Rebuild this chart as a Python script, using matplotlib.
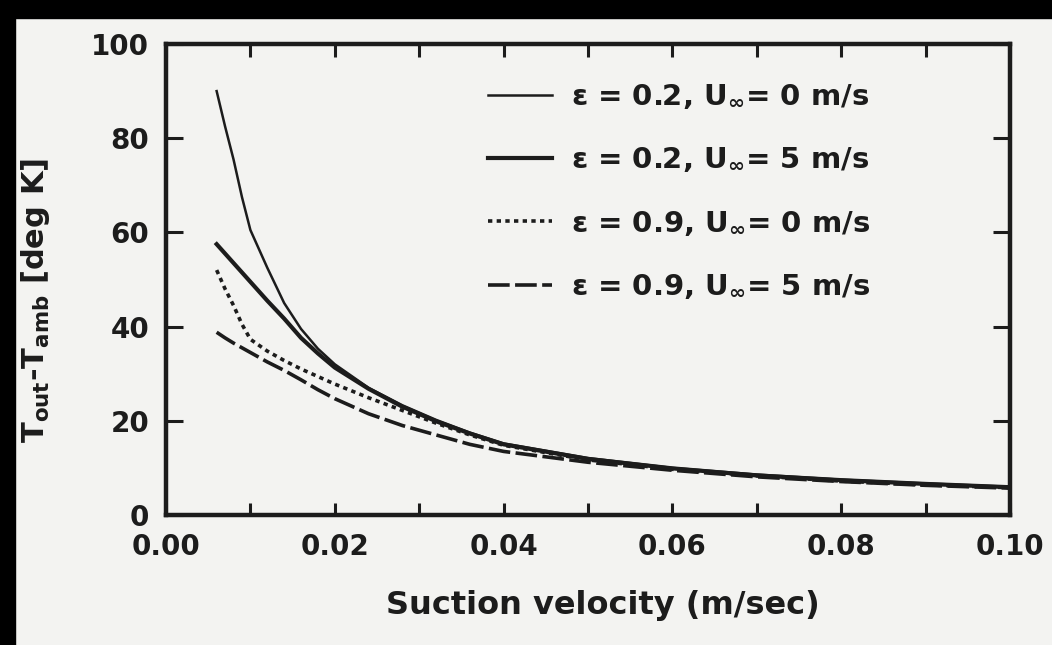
import matplotlib
matplotlib.use("Agg")
import matplotlib.pyplot as plt
from matplotlib.patches import Rectangle

# ---------------- data ----------------
velocity = [0.006, 0.007, 0.008, 0.009, 0.010, 0.012, 0.014, 0.016, 0.018, 0.020, 0.024,
            0.028, 0.032, 0.036, 0.040, 0.050, 0.060, 0.070, 0.080, 0.090, 0.100]
eps02_u0 = [90, 82.5, 75.5, 67.5, 60.5, 52.5, 45, 39.5, 35.3, 32, 27, 23.3, 20.2, 17.5, 15.2,
            12.1, 10.0, 8.6, 7.5, 6.7, 6.0]
eps02_u5 = [57.5, 55.5, 53.5, 51.5, 49.5, 45.5, 41.7, 37.6, 34.3, 31.3, 26.8, 23.0, 19.9,
            17.3, 15.0, 11.9, 9.9, 8.4, 7.4, 6.6, 5.9]
eps09_u0 = [52, 48, 44.5, 40.5, 37.3, 34.8, 32.8, 31.0, 29.4, 27.8, 24.9, 22.2, 19.5, 17.0,
            14.8, 11.7, 9.7, 8.3, 7.2, 6.4, 5.8]
eps09_u5 = [38.8, 37.6, 36.5, 35.5, 34.5, 32.5, 30.7, 28.7, 26.6, 24.7, 21.5, 19.0, 17.0,
            15.0, 13.5, 11.2, 9.5, 8.1, 7.1, 6.3, 5.7]

series_labels = [
    "ε = 0.2, U$_{∞}$= 0 m/s",
    "ε = 0.2, U$_{∞}$= 5 m/s",
    "ε = 0.9, U$_{∞}$= 0 m/s",
    "ε = 0.9, U$_{∞}$= 5 m/s",
]
xticks_major = [0.00, 0.02, 0.04, 0.06, 0.08, 0.10]
xtick_labels = ["0.00", "0.02", "0.04", "0.06", "0.08", "0.10"]
xticks_minor = [0.01, 0.03, 0.05, 0.07, 0.09]
yticks = [0, 20, 40, 60, 80, 100]
ytick_labels = ["0", "20", "40", "60", "80", "100"]

# ---------------- style ----------------
ink = "#1c1c1c"
paper = "#f3f3f1"
plt.rcParams["font.family"] = ["DejaVu Sans"]
plt.rcParams["font.weight"] = "bold"
plt.rcParams["mathtext.fontset"] = "custom"
plt.rcParams["mathtext.rm"] = "DejaVu Sans:bold"
plt.rcParams["mathtext.it"] = "DejaVu Sans:bold"
plt.rcParams["mathtext.default"] = "rm"

fig = plt.figure(figsize=(10.52, 6.45), dpi=100, facecolor=paper)
# scan borders
fig.patches.append(Rectangle((0, 0), 15 / 1052, 1, transform=fig.transFigure,
                             color="black", zorder=0))
fig.patches.append(Rectangle((0, 1 - 18 / 645), 1, 18 / 645, transform=fig.transFigure,
                             color="black", zorder=0))

L, R, T, B = 166, 1010, 44, 515
ax = fig.add_axes([L / 1052, 1 - B / 645, (R - L) / 1052, (B - T) / 645])
ax.set_facecolor(paper)

l1, = ax.plot(velocity, eps02_u0, color=ink, lw=1.8, ls="-")
l2, = ax.plot(velocity, eps02_u5, color=ink, lw=3.0, ls="-")
l3, = ax.plot(velocity, eps09_u0, color=ink, lw=2.6, ls=(0, (1.2, 1.2)))
l4, = ax.plot(velocity, eps09_u5, color=ink, lw=2.6, ls=(0, (6, 1.5)))

ax.set_xlim(0, 0.10)
ax.set_ylim(0, 100)

ax.set_xticks(xticks_major)
ax.set_xticklabels(xtick_labels)
ax.set_xticks(xticks_minor, minor=True)
ax.set_yticks(yticks)
ax.set_yticklabels(ytick_labels)

ax.tick_params(axis="both", which="both", direction="in", colors=ink,
               labelsize=20, width=2.2)
ax.tick_params(axis="x", which="both", top=True, length=9, pad=13)
ax.tick_params(axis="y", which="major", right=True, length=12, pad=12, labelsize=20)
for lab in ax.get_xticklabels() + ax.get_yticklabels():
    lab.set_fontweight("bold")

for sp in ax.spines.values():
    sp.set_linewidth(3.2)
    sp.set_color(ink)

ax.set_xlabel("Suction velocity (m/sec)", fontsize=23, fontweight="bold", color=ink)
ax.xaxis.set_label_coords((603 - L) / (R - L), (B - 590) / (B - T))
ax.set_ylabel("T$_{out}$-T$_{amb}$ [deg K]", fontsize=22, fontweight="bold", color=ink)
ax.yaxis.set_label_coords((52 - L) / (R - L), (B - 300) / (B - T))

leg = fig.legend([l1, l2, l3, l4], series_labels, loc="upper left",
                 bbox_to_anchor=(488 / 1052, 1 - 83 / 645), frameon=False,
                 borderpad=0, borderaxespad=0, handlelength=2.2,
                 handletextpad=0.65, labelspacing=1.2,
                 prop={"size": 21, "weight": "bold"})
for t in leg.get_texts():
    t.set_color(ink)

fig.savefig("out.png", dpi=100, facecolor=paper)
